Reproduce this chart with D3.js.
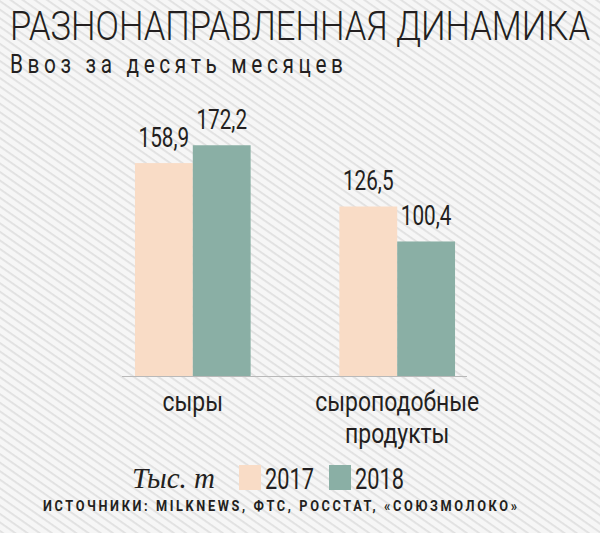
<!DOCTYPE html>
<html><head><meta charset="utf-8">
<script src="https://cdn.jsdelivr.net/npm/d3@7"></script>
<style>html,body{margin:0;padding:0;background:#f5f5f5;}svg{display:block;}</style>
</head><body>
<script>
const categories = [["сыры"], ["сыроподобные", "продукты"]];
const categoryKeys = ["сыры", "сыроподобные продукты"];
const seriesNames = ["2017", "2018"];
const values2017 = [158.9, 126.5];
const values2018 = [172.2, 100.4];
const valueLabels2017 = ["158,9", "126,5"];
const valueLabels2018 = ["172,2", "100,4"];
const titleText = "РАЗНОНАПРАВЛЕННАЯ ДИНАМИКА";
const subtitleText = "Ввоз за десять месяцев";
const unitText = "Тыс. т";
const sourceText = "ИСТОЧНИКИ: MILKNEWS, ФТС, РОССТАТ, «СОЮЗМОЛОКО»";

const W = 600, H = 533;
const colors = {"2017": "#f9dcc6", "2018": "#8aafa5"};
const ink = "#231f20";
const font = "Roboto, 'Open Sans', sans-serif";

const svg = d3.select("body").append("svg").attr("width", W).attr("height", H);
const defs = svg.append("defs");
const pat = defs.append("pattern").attr("id", "stripes").attr("patternUnits", "userSpaceOnUse")
  .attr("width", 7).attr("height", 7).attr("patternTransform", "rotate(35)");
pat.append("rect").attr("width", 7).attr("height", 7).attr("fill", "#f6f6f6");
pat.append("rect").attr("width", 7).attr("height", 1.8).attr("fill", "#e0e0e0");
svg.append("rect").attr("width", W).attr("height", H).attr("fill", "url(#stripes)");

function condensedText(g, x, y, txt, opts) {
  const sx = opts.sx || 0.75;
  const t = g.append("text")
    .attr("transform", `translate(${x},${y}) scale(${sx},1)`)
    .attr("font-family", opts.family || font)
    .attr("font-size", opts.size)
    .attr("font-weight", opts.weight || 400)
    .attr("font-style", opts.style || "normal")
    .attr("fill", opts.fill || ink)
    .attr("text-anchor", opts.anchor || "middle")
    .text(txt);
  if (opts.len) t.attr("textLength", opts.len / sx).attr("lengthAdjust", opts.adjust || "spacingAndGlyphs");
  if (opts.ls) t.attr("letter-spacing", opts.ls);
  return t;
}

// Title & subtitle
condensedText(svg, 10, 40, titleText, {size: 41, weight: 300, anchor: "start", sx: 0.8, len: 580});
condensedText(svg, 10, 73, subtitleText, {size: 26, weight: 400, anchor: "start", sx: 0.8, len: 333, adjust: "spacing"});

// Scales
const baseY = 376;
const y = d3.scaleLinear().domain([0, 200]).range([baseY, baseY - 268]);
const x0 = d3.scaleBand().domain(categoryKeys).range([122, 468]).paddingInner(0.434).paddingOuter(0.0634);
const x1 = d3.scaleBand().domain(seriesNames).range([0, x0.bandwidth()]).padding(0);

const rows = categoryKeys.map((k, i) => ({
  key: k,
  lines: categories[i],
  bars: [
    {s: "2017", v: values2017[i], lab: valueLabels2017[i]},
    {s: "2018", v: values2018[i], lab: valueLabels2018[i]}
  ]
}));

const groups = svg.selectAll("g.grp").data(rows).join("g").attr("class", "grp")
  .attr("transform", d => `translate(${x0(d.key)},0)`);

groups.selectAll("rect").data(d => d.bars).join("rect")
  .attr("x", d => x1(d.s)).attr("width", x1.bandwidth())
  .attr("y", d => y(d.v)).attr("height", d => baseY - y(d.v))
  .attr("fill", d => colors[d.s]);

groups.each(function(d) {
  const g = d3.select(this);
  d.bars.forEach(b => {
    condensedText(g, x1(b.s) + x1.bandwidth() / 2, y(b.v) - 16, b.lab, {size: 28, sx: 0.74});
  });
  const t = g.append("text")
    .attr("transform", `translate(${x0.bandwidth() / 2},411) scale(0.82,1)`)
    .attr("font-family", font).attr("font-size", 28).attr("fill", ink)
    .attr("text-anchor", "middle");
  d.lines.forEach((ln, j) => {
    t.append("tspan").attr("x", 0).attr("dy", j === 0 ? 0 : 32).text(ln);
  });
});

// baseline
svg.append("line").attr("x1", 122).attr("x2", 467).attr("y1", baseY + 0.5).attr("y2", baseY + 0.5)
  .attr("stroke", "#b9b9b9").attr("stroke-width", 1.2);

// Legend
const leg = svg.append("g");
leg.append("text").attr("x", 132).attr("y", 488)
  .attr("font-family", "'Liberation Serif', 'DejaVu Serif', serif").attr("font-style", "italic")
  .attr("font-size", 29).attr("fill", ink).text(unitText);
const legX = [239, 329];
seriesNames.forEach((s, i) => {
  leg.append("rect").attr("x", legX[i]).attr("y", 465).attr("width", 22).attr("height", 25).attr("fill", colors[s]);
  condensedText(leg, legX[i] + 26, 489, s, {size: 29, sx: 0.75, anchor: "start"});
});

// Source
condensedText(svg, 43, 511, sourceText, {size: 15, weight: 700, anchor: "start", sx: 0.85, len: 474, adjust: "spacing"});
</script>
</body></html>
